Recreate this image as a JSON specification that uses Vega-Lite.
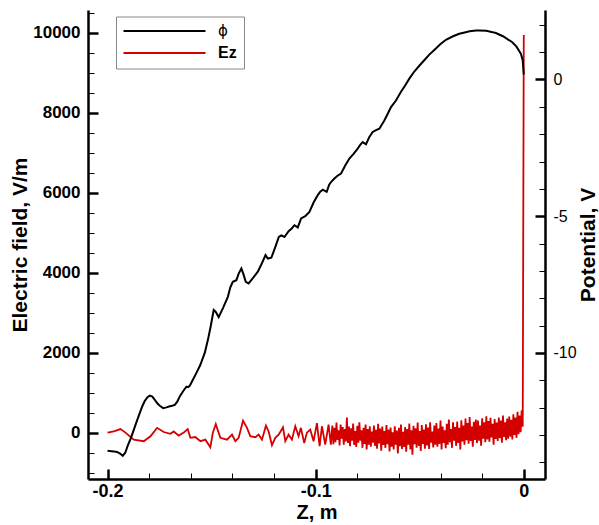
{
"$schema": "https://vega.github.io/schema/vega-lite/v6.json",
"width": 457, "height": 469,
"autosize": {"type": "none"},
"padding": {"left": 88, "top": 10, "right": 54, "bottom": 46},
"background": "white",
"config": {"view": {"stroke": null}, "font": "Liberation Sans",
  "axis": {"grid": false, "domainColor": "#000", "domainWidth": 2.5, "tickColor": "#000", "labelColor": "#000", "titleColor": "#000", "labelOverlap": false, "labelFlush": false}},
"datasets": {
"ez": [
{"z":-0.2,"Ez":0},{"z":-0.197,"Ez":30},{"z":-0.1938,"Ez":90},{"z":-0.1914,"Ez":0},{"z":-0.1874,"Ez":-175},{"z":-0.1826,"Ez":-215},{"z":-0.1794,"Ez":-90},{"z":-0.1762,"Ez":120},{"z":-0.173,"Ez":15},{"z":-0.1698,"Ez":-30},{"z":-0.1682,"Ez":30},{"z":-0.1658,"Ez":-75},{"z":-0.1634,"Ez":0},{"z":-0.1615,"Ez":90},{"z":-0.1602,"Ez":-130},{"z":-0.1578,"Ez":-110},{"z":-0.1554,"Ez":-215},{"z":-0.153,"Ez":-175},{"z":-0.1506,"Ez":-365},{"z":-0.1494,"Ez":0},{"z":-0.148,"Ez":215},{"z":-0.1474,"Ez":120},{"z":-0.1458,"Ez":-130},{"z":-0.1426,"Ez":-175},{"z":-0.1402,"Ez":-50},{"z":-0.1386,"Ez":-215},{"z":-0.137,"Ez":-130},{"z":-0.1349,"Ez":300},{"z":-0.133,"Ez":120},{"z":-0.1314,"Ez":-90},{"z":-0.129,"Ez":-115},{"z":-0.1274,"Ez":-50},{"z":-0.1258,"Ez":-175},{"z":-0.1239,"Ez":175},{"z":-0.1226,"Ez":30},{"z":-0.121,"Ez":-315},{"z":-0.1194,"Ez":-130},{"z":-0.1178,"Ez":-50},{"z":-0.1157,"Ez":135},{"z":-0.1146,"Ez":-215},{"z":-0.113,"Ez":-50},{"z":-0.1114,"Ez":-175},{"z":-0.1098,"Ez":160},{"z":-0.1082,"Ez":-90},{"z":-0.1071,"Ez":120},{"z":-0.1055,"Ez":-260},{"z":-0.1042,"Ez":0},{"z":-0.1026,"Ez":75},{"z":-0.101,"Ez":-215},{"z":-0.0994,"Ez":240},{"z":-0.0981,"Ez":-340},{"z":-0.097,"Ez":160},{"z":-0.0954,"Ez":-300},{"z":-0.0938,"Ez":200},{"z":-0.0927,"Ez":-300},
{"z":-0.092,"Ez":180},{"z":-0.0915,"Ez":-290},{"z":-0.091,"Ez":120},{"z":-0.0905,"Ez":-240},{"z":-0.09,"Ez":250},{"z":-0.0895,"Ez":-180},{"z":-0.089,"Ez":60},{"z":-0.0885,"Ez":-320},{"z":-0.088,"Ez":200},{"z":-0.0875,"Ez":-150},
{"z":-0.087,"Ez":140},{"z":-0.0865,"Ez":-300},{"z":-0.086,"Ez":90},{"z":-0.0855,"Ez":-220},{"z":-0.085,"Ez":380},{"z":-0.0845,"Ez":-260},{"z":-0.084,"Ez":150},{"z":-0.0835,"Ez":-340},{"z":-0.083,"Ez":110},{"z":-0.0825,"Ez":-200},
{"z":-0.082,"Ez":230},{"z":-0.0815,"Ez":-310},{"z":-0.081,"Ez":40},{"z":-0.0805,"Ez":-360},{"z":-0.08,"Ez":170},{"z":-0.0795,"Ez":-250},{"z":-0.079,"Ez":260},{"z":-0.0785,"Ez":-200},{"z":-0.078,"Ez":60},{"z":-0.0775,"Ez":-380},
{"z":-0.077,"Ez":120},{"z":-0.0765,"Ez":-280},{"z":-0.076,"Ez":200},{"z":-0.0755,"Ez":-420},{"z":-0.075,"Ez":90},{"z":-0.0745,"Ez":-300},{"z":-0.074,"Ez":160},{"z":-0.0735,"Ez":-350},{"z":-0.073,"Ez":30},{"z":-0.0725,"Ez":-250},
{"z":-0.072,"Ez":180},{"z":-0.0715,"Ez":-330},{"z":-0.071,"Ez":70},{"z":-0.0705,"Ez":-400},{"z":-0.07,"Ez":220},{"z":-0.0695,"Ez":-270},{"z":-0.069,"Ez":100},{"z":-0.0685,"Ez":-450},{"z":-0.068,"Ez":150},{"z":-0.0675,"Ez":-310},
{"z":-0.067,"Ez":40},{"z":-0.0665,"Ez":-380},{"z":-0.066,"Ez":190},{"z":-0.0655,"Ez":-290},{"z":-0.065,"Ez":80},{"z":-0.0645,"Ez":-470},{"z":-0.064,"Ez":130},{"z":-0.0635,"Ez":-350},{"z":-0.063,"Ez":10},{"z":-0.0625,"Ez":-420},
{"z":-0.062,"Ez":160},{"z":-0.0615,"Ez":-300},{"z":-0.061,"Ez":50},{"z":-0.0605,"Ez":-520},{"z":-0.06,"Ez":120},{"z":-0.0595,"Ez":-340},{"z":-0.059,"Ez":200},{"z":-0.0585,"Ez":-410},{"z":-0.058,"Ez":20},{"z":-0.0575,"Ez":-360},
{"z":-0.057,"Ez":140},{"z":-0.0565,"Ez":-480},{"z":-0.056,"Ez":90},{"z":-0.0555,"Ez":-300},{"z":-0.055,"Ez":230},{"z":-0.0545,"Ez":-420},{"z":-0.054,"Ez":60},{"z":-0.0535,"Ez":-550},{"z":-0.053,"Ez":170},{"z":-0.0525,"Ez":-290},
{"z":-0.052,"Ez":110},{"z":-0.0515,"Ez":-380},{"z":-0.051,"Ez":250},{"z":-0.0505,"Ez":-330},{"z":-0.05,"Ez":40},{"z":-0.0495,"Ez":-460},{"z":-0.049,"Ez":190},{"z":-0.0485,"Ez":-280},{"z":-0.048,"Ez":80},{"z":-0.0475,"Ez":-400},
{"z":-0.047,"Ez":210},{"z":-0.0465,"Ez":-320},{"z":-0.046,"Ez":130},{"z":-0.0455,"Ez":-410},{"z":-0.045,"Ez":260},{"z":-0.0445,"Ez":-250},{"z":-0.044,"Ez":30},{"z":-0.0435,"Ez":-370},{"z":-0.043,"Ez":180},{"z":-0.0425,"Ez":-300},
{"z":-0.042,"Ez":240},{"z":-0.0415,"Ez":-350},{"z":-0.041,"Ez":100},{"z":-0.0405,"Ez":-280},{"z":-0.04,"Ez":300},{"z":-0.0395,"Ez":-420},{"z":-0.039,"Ez":150},{"z":-0.0385,"Ez":-260},{"z":-0.038,"Ez":60},{"z":-0.0375,"Ez":-390},
{"z":-0.037,"Ez":220},{"z":-0.0365,"Ez":-300},{"z":-0.036,"Ez":330},{"z":-0.0355,"Ez":-240},{"z":-0.035,"Ez":90},{"z":-0.0345,"Ez":-380},{"z":-0.034,"Ez":260},{"z":-0.0335,"Ez":-200},{"z":-0.033,"Ez":140},{"z":-0.0325,"Ez":-330},
{"z":-0.032,"Ez":280},{"z":-0.0315,"Ez":-260},{"z":-0.031,"Ez":120},{"z":-0.0305,"Ez":-420},{"z":-0.03,"Ez":310},{"z":-0.0295,"Ez":-220},{"z":-0.029,"Ez":180},{"z":-0.0285,"Ez":-300},{"z":-0.028,"Ez":350},{"z":-0.0275,"Ez":-190},
{"z":-0.027,"Ez":240},{"z":-0.0265,"Ez":-280},{"z":-0.026,"Ez":390},{"z":-0.0255,"Ez":-210},{"z":-0.025,"Ez":150},{"z":-0.0245,"Ez":-350},{"z":-0.024,"Ez":270},{"z":-0.0235,"Ez":-180},{"z":-0.023,"Ez":330},{"z":-0.0225,"Ez":-260},
{"z":-0.022,"Ez":300},{"z":-0.0215,"Ez":-200},{"z":-0.021,"Ez":180},{"z":-0.0205,"Ez":-330},{"z":-0.02,"Ez":360},{"z":-0.0195,"Ez":-150},{"z":-0.019,"Ez":260},{"z":-0.0185,"Ez":-240},{"z":-0.018,"Ez":410},{"z":-0.0175,"Ez":-170},
{"z":-0.017,"Ez":290},{"z":-0.0165,"Ez":-230},{"z":-0.016,"Ez":370},{"z":-0.0155,"Ez":-120},{"z":-0.015,"Ez":220},{"z":-0.0145,"Ez":-300},{"z":-0.014,"Ez":340},{"z":-0.0135,"Ez":-160},{"z":-0.013,"Ez":250},{"z":-0.0125,"Ez":-210},
{"z":-0.012,"Ez":380},{"z":-0.0115,"Ez":-140},{"z":-0.011,"Ez":300},{"z":-0.0105,"Ez":-250},{"z":-0.01,"Ez":430},{"z":-0.0095,"Ez":-110},{"z":-0.009,"Ez":260},{"z":-0.0085,"Ez":-190},{"z":-0.008,"Ez":350},{"z":-0.0075,"Ez":-150},
{"z":-0.007,"Ez":400},{"z":-0.0065,"Ez":-100},{"z":-0.006,"Ez":320},{"z":-0.0055,"Ez":-170},{"z":-0.005,"Ez":460},{"z":-0.0045,"Ez":-60},{"z":-0.004,"Ez":380},{"z":-0.0035,"Ez":-130},{"z":-0.003,"Ez":520},{"z":-0.0025,"Ez":-40},
{"z":-0.002,"Ez":430},{"z":-0.0015,"Ez":10},{"z":-0.001,"Ez":560},{"z":-0.0005,"Ez":150},{"z":0,"Ez":9950}
],
"phi": [
{"z":-0.2,"phi":-13.58},{"z":-0.197,"phi":-13.6},{"z":-0.1955,"phi":-13.62},{"z":-0.194,"phi":-13.68},{"z":-0.1927,"phi":-13.76},{"z":-0.1915,"phi":-13.65},{"z":-0.1903,"phi":-13.39},{"z":-0.189,"phi":-13.15},{"z":-0.1879,"phi":-12.92},{"z":-0.1862,"phi":-12.55},{"z":-0.1845,"phi":-12.19},{"z":-0.1833,"phi":-11.95},{"z":-0.1821,"phi":-11.75},{"z":-0.1808,"phi":-11.62},{"z":-0.1797,"phi":-11.56},{"z":-0.1785,"phi":-11.6},{"z":-0.1773,"phi":-11.72},{"z":-0.176,"phi":-11.85},{"z":-0.1749,"phi":-11.93},{"z":-0.1733,"phi":-12.02},{"z":-0.1717,"phi":-11.99},{"z":-0.1701,"phi":-11.95},{"z":-0.169,"phi":-11.93},{"z":-0.1677,"phi":-11.9},{"z":-0.1665,"phi":-11.78},{"z":-0.1653,"phi":-11.59},{"z":-0.1637,"phi":-11.4},{"z":-0.1621,"phi":-11.23},{"z":-0.1613,"phi":-11.25},{"z":-0.1605,"phi":-11.2},{"z":-0.159,"phi":-10.98},{"z":-0.1573,"phi":-10.73},{"z":-0.1555,"phi":-10.45},{"z":-0.1533,"phi":-10.0},{"z":-0.1518,"phi":-9.53},{"z":-0.1505,"phi":-9.05},{"z":-0.149,"phi":-8.43},{"z":-0.148,"phi":-8.5},{"z":-0.1466,"phi":-8.69},{"z":-0.1445,"phi":-8.35},{"z":-0.1422,"phi":-7.95},{"z":-0.141,"phi":-7.6},{"z":-0.1398,"phi":-7.4},{"z":-0.1381,"phi":-7.34},{"z":-0.137,"phi":-7.1},{"z":-0.1357,"phi":-6.91},{"z":-0.1348,"phi":-7.1},{"z":-0.1336,"phi":-7.4},{"z":-0.1322,"phi":-7.46},{"z":-0.13,"phi":-7.25},{"z":-0.1278,"phi":-7.03},{"z":-0.126,"phi":-6.75},{"z":-0.1241,"phi":-6.42},{"z":-0.123,"phi":-6.55},{"z":-0.1213,"phi":-6.52},{"z":-0.1195,"phi":-6.15},{"z":-0.1177,"phi":-5.76},{"z":-0.1165,"phi":-5.7},{"z":-0.115,"phi":-5.76},{"z":-0.113,"phi":-5.55},{"z":-0.1115,"phi":-5.45},{"z":-0.1102,"phi":-5.33},{"z":-0.1086,"phi":-5.41},{"z":-0.107,"phi":-5.08},{"z":-0.105,"phi":-5.0},{"z":-0.103,"phi":-4.84},{"z":-0.101,"phi":-4.5},{"z":-0.099,"phi":-4.23},{"z":-0.0978,"phi":-4.1},{"z":-0.0966,"phi":-4.03},{"z":-0.0947,"phi":-4.11},{"z":-0.0935,"phi":-3.85},{"z":-0.0926,"phi":-3.75},{"z":-0.091,"phi":-3.62},{"z":-0.0895,"phi":-3.52},{"z":-0.0878,"phi":-3.44},{"z":-0.0858,"phi":-3.15},{"z":-0.0838,"phi":-2.89},{"z":-0.0818,"phi":-2.72},{"z":-0.0798,"phi":-2.53},{"z":-0.0785,"phi":-2.38},{"z":-0.0774,"phi":-2.29},{"z":-0.0758,"phi":-2.37},{"z":-0.0742,"phi":-2.1},{"z":-0.0726,"phi":-1.92},{"z":-0.071,"phi":-1.85},{"z":-0.0694,"phi":-1.8},{"z":-0.067,"phi":-1.5},{"z":-0.065,"phi":-1.2},{"z":-0.0638,"phi":-1.01},{"z":-0.0614,"phi":-0.77},{"z":-0.059,"phi":-0.45},{"z":-0.057,"phi":-0.22},{"z":-0.055,"phi":0.03},{"z":-0.0525,"phi":0.3},{"z":-0.05,"phi":0.52},{"z":-0.0475,"phi":0.73},{"z":-0.0454,"phi":0.91},{"z":-0.043,"phi":1.08},{"z":-0.04,"phi":1.3},{"z":-0.0374,"phi":1.45},{"z":-0.034,"phi":1.58},{"z":-0.031,"phi":1.67},{"z":-0.0294,"phi":1.7},{"z":-0.026,"phi":1.76},{"z":-0.023,"phi":1.79},{"z":-0.0214,"phi":1.79},{"z":-0.018,"phi":1.78},{"z":-0.015,"phi":1.73},{"z":-0.0134,"phi":1.7},{"z":-0.01,"phi":1.58},{"z":-0.0075,"phi":1.46},{"z":-0.0055,"phi":1.36},{"z":-0.0035,"phi":1.2},{"z":-0.0014,"phi":0.94},{"z":-0.0005,"phi":0.7},{"z":0,"phi":0.18}
]
},
"layer": [
{
 "data": {"name": "ez"},
 "mark": {"type": "line", "strokeWidth": 1.8, "clip": true},
 "encoding": {
  "x": {"field": "z", "type": "quantitative",
   "scale": {"domain": [-0.2094, 0.0102], "nice": false, "zero": false},
   "axis": {"orient": "bottom", "values": [-0.2, -0.1, 0], "tickSize": -10, "tickWidth": 2.5, "labelPadding": 13, "labelFontSize": 18, "labelFontWeight": "bold", "labelExpr": "datum.value == 0 ? '0' : '' + round(datum.value*10)/10", "title": "Z, m", "titleFontSize": 20, "titleFontWeight": "bold", "titleX": 228.5, "titleY": 39.5, "titleBaseline": "alphabetic", "titleAlign": "center"}},
  "y": {"field": "Ez", "type": "quantitative",
   "scale": {"domain": [-1160, 10575], "nice": false, "zero": false},
   "axis": {"orient": "left", "values": [0, 2000, 4000, 6000, 8000, 10000], "format": "d", "tickSize": -10, "tickWidth": 2.5, "labelPadding": 18, "labelFontSize": 17, "labelFontWeight": "bold", "title": "Electric field, V/m", "titleFontSize": 21, "titleFontWeight": "bold", "titleX": -68, "titleY": 234.5, "titleBaseline": "middle", "titleAlign": "center", "titleAngle": 270}},
  "color": {"datum": "Ez", "type": "nominal",
   "scale": {"domain": ["ϕ", "Ez"], "range": ["#000000", "#d40000"]},
   "legend": {"orient": "none", "legendX": 28, "legendY": 6.5, "title": null, "direction": "vertical", "strokeColor": "#888888", "fillColor": "#ffffff", "padding": 7, "symbolType": "M-8.2,0H8.2", "symbolSize": 100, "symbolStrokeWidth": 2, "symbolOffset": 34, "labelOffset": 46, "labelAlign": "left", "rowPadding": 5, "labelFontSize": 16, "labelFontWeight": "bold", "labelColor": "#000000", "labelBaseline": "middle",
     "encode": {"labels": {"update": {"fontWeight": {"signal": "datum.value === 'Ez' ? 'bold' : 'normal'"}, "fontSize": {"signal": "datum.value === 'Ez' ? 16 : 15"}, "font": {"signal": "datum.value === 'Ez' ? 'Liberation Sans' : 'DejaVu Sans'"}, "align": {"value": "left"}}}}}}
 }
},
{
 "data": {"name": "phi"},
 "mark": {"type": "line", "strokeWidth": 2, "clip": true},
 "encoding": {
  "x": {"field": "z", "type": "quantitative",
   "scale": {"domain": [-0.2094, 0.0102], "nice": false, "zero": false}, "axis": null},
  "y": {"field": "phi", "type": "quantitative",
   "scale": {"domain": [-14.61, 2.54], "nice": false, "zero": false},
   "axis": {"orient": "right", "values": [0, -5, -10], "labelExpr": "'' + datum.value", "tickSize": -10, "tickWidth": 2.5, "labelPadding": 18, "labelFontSize": 16, "labelFontWeight": "normal", "title": "Potential, V", "titleFontSize": 21, "titleFontWeight": "bold", "titleX": 43, "titleY": 234.5, "titleBaseline": "middle", "titleAlign": "center", "titleAngle": 270}},
  "color": {"datum": "ϕ", "type": "nominal"}
 }
},
{
 "data": {"name": "phi"},
 "mark": {"type": "point", "opacity": 0},
 "encoding": {
  "x": {"field": "z", "type": "quantitative",
   "scale": {"domain": [-0.2094, 0.0102], "nice": false, "zero": false},
   "axis": {"orient": "bottom", "values": [-0.18, -0.16, -0.14, -0.12, -0.08, -0.06, -0.04, -0.02], "tickSize": -6, "tickWidth": 1, "labels": false, "domain": false, "title": null}},
  "y": {"field": "phi", "type": "quantitative",
   "scale": {"domain": [-1160, 10575], "nice": false, "zero": false},
   "axis": {"orient": "left", "values": [-1000, -500, 500, 1000, 1500, 2500, 3000, 3500, 4500, 5000, 5500, 6500, 7000, 7500, 8500, 9000, 9500, 10500], "tickSize": -6, "tickWidth": 1, "labels": false, "domain": false, "title": null}}
 }
},
{
 "data": {"name": "phi"},
 "mark": {"type": "point", "opacity": 0},
 "encoding": {
  "x": {"field": "z", "type": "quantitative",
   "scale": {"domain": [-0.2094, 0.0102], "nice": false, "zero": false}, "axis": null},
  "y": {"field": "phi", "type": "quantitative",
   "scale": {"domain": [-14.61, 2.54], "nice": false, "zero": false},
   "axis": {"orient": "right", "values": [2, 1, -1, -2, -3, -4, -6, -7, -8, -9, -11, -12, -13, -14], "tickSize": -6, "tickWidth": 1, "labels": false, "domain": false, "title": null}}
 }
}
],
"resolve": {"scale": {"x": "independent", "y": "independent"}, "axis": {"x": "independent", "y": "independent"}}
}
